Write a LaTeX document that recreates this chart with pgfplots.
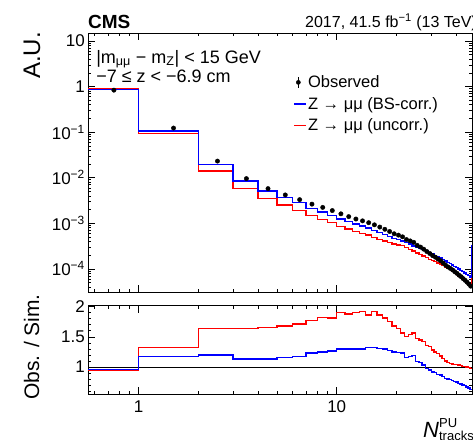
\documentclass[border=0pt]{standalone}
\usepackage{fontspec}
\setmainfont{Liberation Sans}
\usepackage{pgfplots}
\usepackage{pgfplotstable}
\pgfplotsset{compat=1.18}
\pgfplotsset{legend image code/.code={\draw[#1] (0pt,0pt)--(12pt,0pt);}}

\pgfplotstableread{
x blue red
0.5 0.87 0.888
1 0.105 0.0931
2 0.0193 0.01412
3 0.00845 0.00582
4 0.0051 0.00348
5 0.00363 0.00250
6 0.00282 0.00193
7 0.00214 0.00149
8 0.00178 0.00122
9 0.00150 0.00105
10 0.00124 0.000846
11 0.00108 0.000747
12 0.00096 0.000654
13 0.00087 0.000591
14 0.00078 0.000554
15 0.00070 0.000483
16 0.00063 0.000444
17 0.00057 0.000408
18 0.00052 0.000377
19 0.00047 0.000350
20 0.000443 0.000335
21 0.00041 0.000323
22 0.00038 0.000291
23 0.00035 0.000266
24 0.00032 0.000244
25 0.000300 0.000222
26 0.000280 0.000207
27 0.000262 0.000190
28 0.000245 0.000177
29 0.000228 0.000162
30 0.000212 0.000152
31 0.000198 0.000144
32 0.000185 0.000133
33 0.000172 0.000127
34 0.000160 0.000118
35 0.000148 0.000109
36 0.000138 0.000103
37 0.000129 0.0000961
38 0.000121 0.0000899
39 0.000113 0.0000822
40 0.000106 0.0000764
41 0.000099 0.0000702
42 0.000093 0.0000657
43 0.000087 0.0000603
44 0.000081 0.0000553
45 0.000076 0.0000509
46 0.000071 0.0000466
47 0.000066 0.0000424
48 0.00032 0.00008
49 0.00032 0.00008
}\histtab

\pgfplotstableread{
x obs
0.75 0.835
1.5 0.1229
2.5 0.02316
3.5 0.00955
4.5 0.00576
5.5 0.00419
6.5 0.00330
7.5 0.00263
8.5 0.00223
9.5 0.00190
10.5 0.00161
11.5 0.00140
12.5 0.00124
13.5 0.00113
14.5 0.00103
15.5 0.000924
16.5 0.000825
17.5 0.000738
18.5 0.000660
19.5 0.000588
20.5 0.000549
21.5 0.000504
22.5 0.000439
23.5 0.000410
24.5 0.000381
25.5 0.000327
26.5 0.000300
27.5 0.000270
28.5 0.000240
29.5 0.000217
30.5 0.000195
31.5 0.000180
32.5 0.000163
33.5 0.000150
34.5 0.000134
35.5 0.000120
36.5 0.000110
37.5 0.000102
38.5 0.0000944
39.5 0.0000859
40.5 0.0000795
41.5 0.0000723
42.5 0.0000670
43.5 0.0000609
44.5 0.0000559
45.5 0.0000509
46.5 0.0000462
47.5 0.0000416
}\obstab

\pgfplotstableread{
x rb rr
0.5 0.96 0.94
1 1.17 1.32
2 1.20 1.64
3 1.13 1.64
4 1.13 1.655
5 1.155 1.68
6 1.17 1.71
7 1.23 1.77
8 1.25 1.82
9 1.265 1.81
10 1.30 1.905
11 1.30 1.88
12 1.295 1.90
13 1.30 1.915
14 1.32 1.86
15 1.32 1.915
16 1.31 1.86
17 1.295 1.81
18 1.27 1.75
19 1.25 1.68
20 1.24 1.64
21 1.23 1.56
22 1.155 1.51
23 1.17 1.54
24 1.19 1.56
25 1.09 1.47
26 1.07 1.45
27 1.03 1.42
28 0.98 1.36
29 0.95 1.34
30 0.92 1.28
31 0.91 1.25
32 0.88 1.22
33 0.87 1.18
34 0.84 1.14
35 0.81 1.10
36 0.80 1.07
37 0.79 1.06
38 0.78 1.05
39 0.76 1.045
40 0.75 1.04
41 0.73 1.03
42 0.72 1.02
43 0.70 1.01
44 0.69 1.01
45 0.67 1.00
46 0.65 0.99
47 0.63 0.98
48 0.63 0.98
}\ratiotab

\definecolor{rootred}{RGB}{255,0,0}
\definecolor{rootblue}{RGB}{0,0,255}

\pgfplotsset{
  cmsaxis/.style={
    scale only axis,
    anchor=south west,
    width=384pt,
    xmin=0.555, xmax=48.2,
    tick align=inside,
    major tick length=7pt,
    minor tick length=3.5pt,
    tick style={black, line width=0.6pt},
    axis line style={line width=0.8pt},
    ticklabel style={font=\fontsize{17}{17}\selectfont},
    /pgf/number format/assume math mode=true,
    xtick={1,10},
    minor xtick={0.6,0.7,0.8,0.9,2,3,4,5,6,7,8,9,20,30,40},
    yticklabel style={inner sep=0pt, xshift=-3pt},
  },
}

\begin{document}
\begin{tikzpicture}
% upper panel
\begin{axis}[xmode=log, ymode=log, cmsaxis,
  at={(88pt,147pt)},
  height=259pt,
  ymin=3.1e-5, ymax=15,
  xticklabels={},
  ytick={1e-4,1e-3,1e-2,1e-1,1,10},
  yticklabels={10\textsuperscript{−4},10\textsuperscript{−3},10\textsuperscript{−2},10\textsuperscript{−1},1,10},
  minor ytick={4e-5,5e-5,6e-5,7e-5,8e-5,9e-5,
    2e-4,3e-4,4e-4,5e-4,6e-4,7e-4,8e-4,9e-4,
    2e-3,3e-3,4e-3,5e-3,6e-3,7e-3,8e-3,9e-3,
    2e-2,3e-2,4e-2,5e-2,6e-2,7e-2,8e-2,9e-2,
    0.2,0.3,0.4,0.5,0.6,0.7,0.8,0.9,2,3,4,5,6,7,8,9},
  legend cell align=left,
  reverse legend,
  legend style={at={(rel axis cs:0.535,0.84)}, anchor=north west, draw=none, fill=none,
    font=\fontsize{16.5}{16.5}\selectfont, row sep=6pt, inner sep=0pt,
    nodes={inner sep=1pt}},
]
\addplot[rootred, line width=1.4pt, const plot mark left] table[x=x, y=red] {\histtab};
\addlegendentry{Z → μμ (uncorr.)}
\addplot[rootblue, line width=1.4pt, const plot mark left] table[x=x, y=blue] {\histtab};
\addlegendentry{Z → μμ (BS-corr.)}
\addplot[black, only marks, mark=*, mark size=2.2pt,
  legend image code/.code={\draw[black,line width=0.7pt] (4pt,-5.5pt)--(4pt,5.5pt); \fill[black] (4pt,0pt) circle (2.1pt);}]
  table[x=x, y=obs] {\obstab};
\addlegendentry{Observed}

\node[anchor=west, inner sep=0pt, font=\fontsize{18}{18}\selectfont] at (rel axis cs:0.021,0.899) {|m\textsubscript{μμ} − m\textsubscript{Z}| < 15 GeV};
\node[anchor=west, inner sep=0pt, font=\fontsize{18}{18}\selectfont] at (rel axis cs:0.021,0.832) {−7 ≤ z < −6.9 cm};
\end{axis}

% lower panel
\begin{axis}[xmode=log, cmsaxis,
  at={(88pt,44.7pt)},
  height=88.6pt,
  ymin=0.548, ymax=2.015,
  xticklabels={1,10},
  xticklabel style={yshift=-3pt},
  ytick={1,1.5,2},
  yticklabels={1,1.5,2},
  minor ytick={0.6,0.7,0.8,0.9,1.1,1.2,1.3,1.4,1.6,1.7,1.8,1.9},
]
\addplot[black, line width=0.8pt] coordinates {(0.5,1) (60,1)};
\addplot[rootred, line width=1.4pt, const plot mark left] table[x=x, y=rr] {\ratiotab};
\addplot[rootblue, line width=1.4pt, const plot mark left] table[x=x, y=rb] {\ratiotab};
\end{axis}

% outer texts
\node[anchor=west, inner sep=0pt, font=\fontsize{19}{19}\selectfont\bfseries] at (88pt,417pt) {CMS};
\node[anchor=west, inner sep=0pt, font=\fontsize{16}{16}\selectfont] at (305pt,417pt) {2017, 41.5 fb\textsuperscript{−1} (13 TeV)};
\node[rotate=90, anchor=base east, inner sep=0pt, font=\fontsize{24}{24}\selectfont] at (40pt,407pt) {A.U.};
\node[rotate=90, anchor=base east, inner sep=0pt, font=\fontsize{21}{21}\selectfont] at (39pt,145pt) {Obs. / Sim.};
\node[anchor=base west, inner sep=0pt] at (423pt,2pt) {\fontsize{22}{22}\selectfont\textit{N}\fontsize{13}{13}\selectfont\rlap{\raisebox{10pt}{PU}}\raisebox{-3pt}{tracks}};

\pgfresetboundingbox
\useasboundingbox (0,0) rectangle (473pt,439pt);
\end{tikzpicture}
\end{document}
